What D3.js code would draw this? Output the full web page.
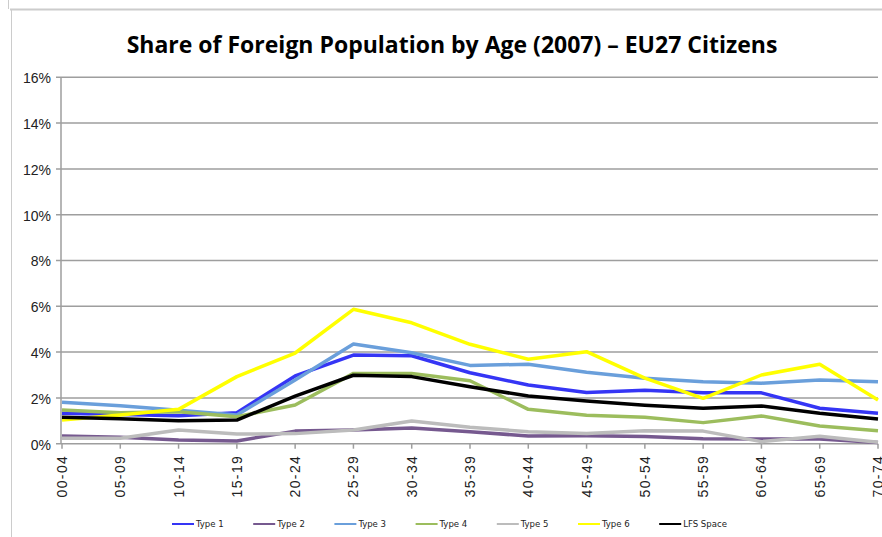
<!DOCTYPE html>
<html>
<head>
<meta charset="utf-8">
<script src="https://cdn.jsdelivr.net/npm/d3@7"></script>
<style>
  body { margin: 0; background: #fff; }
  svg { display: block; }
</style>
</head>
<body>
<div id="chart"></div>
<script>
// Age groups (x categories)
const ageGroups = ['00-04', '05-09', '10-14', '15-19', '20-24', '25-29', '30-34', '35-39',
  '40-44', '45-49', '50-54', '55-59', '60-64', '65-69', '70-74'];

// Shares in percent
const type1 = [1.33, 1.28, 1.22, 1.35, 2.96, 3.87, 3.84, 3.10, 2.56, 2.24, 2.33, 2.23, 2.22, 1.55, 1.33];
const type2 = [0.34, 0.28, 0.16, 0.12, 0.55, 0.60, 0.69, 0.52, 0.34, 0.35, 0.31, 0.22, 0.20, 0.20, 0.05];
const type3 = [1.81, 1.66, 1.46, 1.25, 2.78, 4.35, 3.97, 3.42, 3.47, 3.12, 2.86, 2.71, 2.64, 2.78, 2.71];
const type4 = [1.47, 1.35, 1.40, 1.18, 1.69, 3.07, 3.07, 2.75, 1.50, 1.24, 1.15, 0.92, 1.21, 0.77, 0.57];
const type5 = [0.24, 0.24, 0.60, 0.42, 0.44, 0.60, 0.99, 0.72, 0.52, 0.45, 0.57, 0.55, 0.09, 0.33, 0.06];
const type6 = [1.03, 1.25, 1.50, 2.93, 3.96, 5.87, 5.28, 4.34, 3.69, 4.02, 2.86, 1.98, 3.00, 3.47, 1.91];
const lfsSpace = [1.15, 1.09, 1.00, 1.03, 2.08, 2.99, 2.93, 2.49, 2.08, 1.86, 1.68, 1.55, 1.65, 1.33, 1.08];

const seriesNames = ['Type 1', 'Type 2', 'Type 3', 'Type 4', 'Type 5', 'Type 6', 'LFS Space'];
const seriesValues = [type1, type2, type3, type4, type5, type6, lfsSpace];
const seriesColors = ['#3535f5', '#76598f', '#6a9fdb', '#9cbd5d', '#bcbcbc', '#ffff00', '#000000'];

const yTicks = [0, 2, 4, 6, 8, 10, 12, 14, 16];

const width = 882;
const height = 537;
const font = '"Liberation Sans", Arial, sans-serif';

const svg = d3.select('#chart')
  .append('svg')
  .attr('width', width)
  .attr('height', height);

// outer chart frame (partly cropped in the original)
svg.append('line').attr('x1', 10).attr('x2', width).attr('y1', 9.5).attr('y2', 9.5)
  .attr('stroke', '#cccccc').attr('stroke-width', 2);
svg.append('line').attr('x1', 11.5).attr('x2', 11.5).attr('y1', 10).attr('y2', height)
  .attr('stroke', '#cccccc').attr('stroke-width', 1);
svg.append('line').attr('x1', 8.5).attr('x2', 8.5).attr('y1', 0).attr('y2', 9)
  .attr('stroke', '#cccccc').attr('stroke-width', 1);

// title
svg.append('text')
  .attr('x', 452)
  .attr('y', 53)
  .attr('text-anchor', 'middle')
  .style('font-family', '"Open Sans", sans-serif')
  .style('font-size', '23px')
  .style('font-weight', 700)
  .style('fill', '#000')
  .text('Share of Foreign Population by Age (2007) \u2013 EU27 Citizens');

const x = d3.scalePoint().domain(ageGroups).range([62, 878]);
const y = d3.scaleLinear().domain([0, 16]).range([443.7, 77.3]);

// gridlines
svg.append('g')
  .selectAll('line')
  .data(yTicks)
  .join('line')
  .attr('x1', 56)
  .attr('x2', 878)
  .attr('y1', (d) => y(d))
  .attr('y2', (d) => y(d))
  .attr('stroke', '#9e9e9e')
  .attr('stroke-width', 1.5);

// y axis line
svg.append('line')
  .attr('x1', 61).attr('x2', 61)
  .attr('y1', y(16)).attr('y2', y(0))
  .attr('stroke', '#9e9e9e').attr('stroke-width', 1.5);

// y tick labels
svg.append('g')
  .selectAll('text')
  .data(yTicks)
  .join('text')
  .attr('x', 51)
  .attr('y', (d) => y(d) + 1)
  .attr('dy', '0.35em')
  .attr('text-anchor', 'end')
  .style('font-family', font)
  .style('font-size', '14px')
  .style('fill', '#222')
  .text((d) => `${d}%`);

// x tick marks
svg.append('g')
  .selectAll('line')
  .data(ageGroups)
  .join('line')
  .attr('x1', (d) => x(d))
  .attr('x2', (d) => x(d))
  .attr('y1', y(0))
  .attr('y2', y(0) + 5)
  .attr('stroke', '#9e9e9e')
  .attr('stroke-width', 1.5);

// x labels, rotated
svg.append('g')
  .selectAll('text')
  .data(ageGroups)
  .join('text')
  .attr('transform', (d) => `translate(${x(d) + 5},${y(0) + 11}) rotate(-90)`)
  .attr('text-anchor', 'end')
  .style('font-family', font)
  .style('font-size', '14px')
  .style('letter-spacing', '1.4px')
  .style('fill', '#222')
  .text((d) => d);

// series lines
const line = d3.line()
  .x((d, i) => x(ageGroups[i]))
  .y((d) => y(d));

svg.append('g')
  .selectAll('path')
  .data(seriesValues)
  .join('path')
  .attr('d', (d) => line(d))
  .attr('fill', 'none')
  .attr('stroke', (d, i) => seriesColors[i])
  .attr('stroke-width', 3.5)
  .attr('stroke-linejoin', 'round');

// legend
const legend = svg.append('g')
  .selectAll('g')
  .data(seriesNames)
  .join('g')
  .attr('transform', (d, i) => `translate(${172 + i * 81.2},524)`);

legend.append('line')
  .attr('x1', 0).attr('x2', 22)
  .attr('stroke', (d, i) => seriesColors[i])
  .attr('stroke-width', 2);

legend.append('text')
  .attr('x', 24)
  .attr('dy', '0.35em')
  .style('font-family', '"DejaVu Sans Condensed", "Liberation Sans", sans-serif')
  .style('font-size', '9.5px')
  .style('fill', '#222')
  .text((d) => d);
</script>
</body>
</html>
